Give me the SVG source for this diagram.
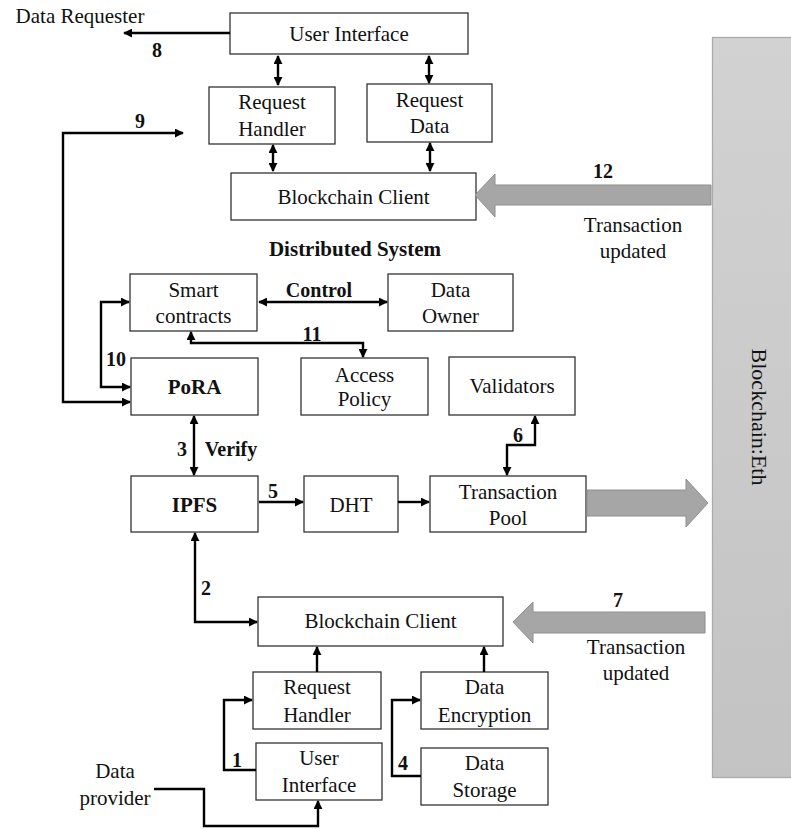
<svg xmlns="http://www.w3.org/2000/svg" width="791" height="829" viewBox="0 0 791 829">
  <style>
    .box { fill: #ffffff; stroke: #333333; stroke-width: 1.3; }
    .t { font-family: 'Liberation Serif', 'Times New Roman', Times, serif; font-size: 21px; fill: #111111; text-anchor: middle; }
    .b { font-family: 'Liberation Serif', 'Times New Roman', Times, serif; font-size: 20px; font-weight: bold; fill: #111111; text-anchor: middle; }
    .free { font-family: 'Liberation Serif', 'Times New Roman', Times, serif; font-size: 21px; fill: #111111; text-anchor: middle; }
    .c { fill: none; stroke: #000000; stroke-width: 2.4; }
    .one { marker-end: url(#ah); }
    .two { marker-start: url(#ah); marker-end: url(#ah); }
    .big { fill: #a6a6a6; stroke: #8f8f8f; stroke-width: 1; }
  </style>
  <defs>
    <marker id="ah" viewBox="0 0 10 10" refX="9" refY="5" markerWidth="9" markerHeight="9" markerUnits="userSpaceOnUse" orient="auto-start-reverse">
      <path d="M0,0 L10,5 L0,10 z" fill="#000000"/>
    </marker>
    <linearGradient id="barFill" x1="0" y1="0" x2="0" y2="1">
      <stop offset="0" stop-color="#d2d2d2"/>
      <stop offset="1" stop-color="#c3c3c3"/>
    </linearGradient>
  </defs>

  <!-- ledger column -->
  <g id="blockchain-eth">
    <rect x="712.5" y="37.5" width="90" height="740" fill="url(#barFill)" stroke="#ababab" stroke-width="1.3"/>
    <text class="free" transform="translate(752,417) rotate(90)" style="font-size:22px">Blockchain:Eth</text>
  </g>

  <!-- requester side -->
  <g id="ui-top">
    <rect class="box" x="230" y="13" width="238" height="41"/>
    <text class="t" x="349" y="41">User Interface</text>
  </g>
  <g id="request-handler-top">
    <rect class="box" x="209" y="87" width="126" height="57"/>
    <text class="t"><tspan x="272" y="109">Request</tspan><tspan x="272" y="136">Handler</tspan></text>
  </g>
  <g id="request-data">
    <rect class="box" x="367" y="84" width="125" height="58"/>
    <text class="t"><tspan x="429.5" y="107">Request</tspan><tspan x="429.5" y="133">Data</tspan></text>
  </g>
  <g id="blockchain-client-top">
    <rect class="box" x="231" y="173" width="245" height="47"/>
    <text class="t" x="353.5" y="204">Blockchain Client</text>
  </g>

  <text id="distributed-system" class="b" x="355" y="256" style="font-size:21px">Distributed System</text>

  <!-- distributed system -->
  <g id="smart-contracts">
    <rect class="box" x="130" y="274" width="127" height="57"/>
    <text class="t"><tspan x="193.5" y="297">Smart</tspan><tspan x="193.5" y="323">contracts</tspan></text>
  </g>
  <g id="data-owner">
    <rect class="box" x="388" y="274" width="125" height="57"/>
    <text class="t"><tspan x="450.5" y="297">Data</tspan><tspan x="450.5" y="323">Owner</tspan></text>
  </g>
  <g id="pora">
    <rect class="box" x="131" y="358" width="127" height="57"/>
    <text class="b" x="194.5" y="394" style="font-size:21px">PoRA</text>
  </g>
  <g id="access-policy">
    <rect class="box" x="301" y="358" width="127" height="57"/>
    <text class="t"><tspan x="364.5" y="382">Access</tspan><tspan x="364.5" y="406">Policy</tspan></text>
  </g>
  <g id="validators">
    <rect class="box" x="449" y="357" width="126" height="58"/>
    <text class="t" x="512" y="393">Validators</text>
  </g>
  <g id="ipfs">
    <rect class="box" x="131" y="476" width="127" height="56"/>
    <text class="b" x="194.5" y="512" style="font-size:21px">IPFS</text>
  </g>
  <g id="dht">
    <rect class="box" x="304" y="476" width="94" height="56"/>
    <text class="t" x="351" y="512">DHT</text>
  </g>
  <g id="transaction-pool">
    <rect class="box" x="430" y="476" width="156" height="56"/>
    <text class="t"><tspan x="508" y="499">Transaction</tspan><tspan x="508" y="525">Pool</tspan></text>
  </g>

  <!-- provider side -->
  <g id="blockchain-client-bottom">
    <rect class="box" x="258" y="597" width="245" height="49"/>
    <text class="t" x="380.5" y="628">Blockchain Client</text>
  </g>
  <g id="request-handler-bottom">
    <rect class="box" x="253" y="672" width="128" height="57"/>
    <text class="t"><tspan x="317" y="694">Request</tspan><tspan x="317" y="722">Handler</tspan></text>
  </g>
  <g id="data-encryption">
    <rect class="box" x="421" y="672" width="127" height="57"/>
    <text class="t"><tspan x="484.5" y="694">Data</tspan><tspan x="484.5" y="722">Encryption</tspan></text>
  </g>
  <g id="ui-bottom">
    <rect class="box" x="256" y="743" width="126" height="57"/>
    <text class="t"><tspan x="319" y="765">User</tspan><tspan x="319" y="792">Interface</tspan></text>
  </g>
  <g id="data-storage">
    <rect class="box" x="421" y="748" width="127" height="57"/>
    <text class="t"><tspan x="484.5" y="770">Data</tspan><tspan x="484.5" y="797">Storage</tspan></text>
  </g>

  <!-- external actors -->
  <text id="data-requester" class="free" x="80" y="23">Data Requester</text>
  <text id="data-provider" class="free"><tspan x="115" y="778">Data</tspan><tspan x="115" y="805">provider</tspan></text>

  <!-- connectors -->
  <g id="connectors">
    <path class="c one" d="M230,33 H124"/>
    <path class="c two" d="M278,56 V85"/>
    <path class="c two" d="M429,56 V83"/>
    <path class="c two" d="M273,145 V171"/>
    <path class="c two" d="M430,143 V171"/>
    <path class="c two" d="M183,133 H63 V402 H130"/>
    <path class="c two" d="M129,302 H101 V387 H130"/>
    <path class="c two" d="M259,302 H387"/>
    <path class="c two" d="M191,332 V343 H363 V357"/>
    <path class="c two" d="M194,416 V475"/>
    <path class="c two" d="M535,416 V445 H507 V475"/>
    <path class="c one" d="M259,502 H303"/>
    <path class="c one" d="M398,502 H429"/>
    <path class="c two" d="M195,533 V622 H257"/>
    <path class="c one" d="M317,672 V647"/>
    <path class="c one" d="M484,672 V647"/>
    <path class="c one" d="M256,770 H224 V700 H252"/>
    <path class="c one" d="M421,776 H392 V700 H420"/>
    <path class="c one" d="M154,789 H204 V826 H318 V801"/>

    <!-- ledger transfers -->
    <polygon class="big" points="711,185 495,185 495,174 475,195 495,217 495,205 711,205"/>
    <polygon class="big" points="587,490 686,490 686,479 708,503 686,527 686,516 587,516"/>
    <polygon class="big" points="705,612 533,612 533,602 513,622 533,643 533,633 705,633"/>

    <!-- step labels -->
    <text class="b" x="157" y="57">8</text>
    <text class="b" x="140" y="128">9</text>
    <text class="b" x="116" y="366">10</text>
    <text class="b" x="319" y="297">Control</text>
    <text class="b" x="312" y="341">11</text>
    <text class="b" x="182" y="456">3</text>
    <text class="b" x="231" y="456">Verify</text>
    <text class="b" x="518" y="442">6</text>
    <text class="b" x="273" y="498">5</text>
    <text class="b" x="206" y="595">2</text>
    <text class="b" x="237" y="767">1</text>
    <text class="b" x="403" y="770">4</text>
    <text class="b" x="603" y="178">12</text>
    <text class="free" x="633" y="232">Transaction</text>
    <text class="free" x="633" y="258">updated</text>
    <text class="b" x="618" y="607">7</text>
    <text class="free" x="636" y="654">Transaction</text>
    <text class="free" x="636" y="680">updated</text>
  </g>
</svg>
